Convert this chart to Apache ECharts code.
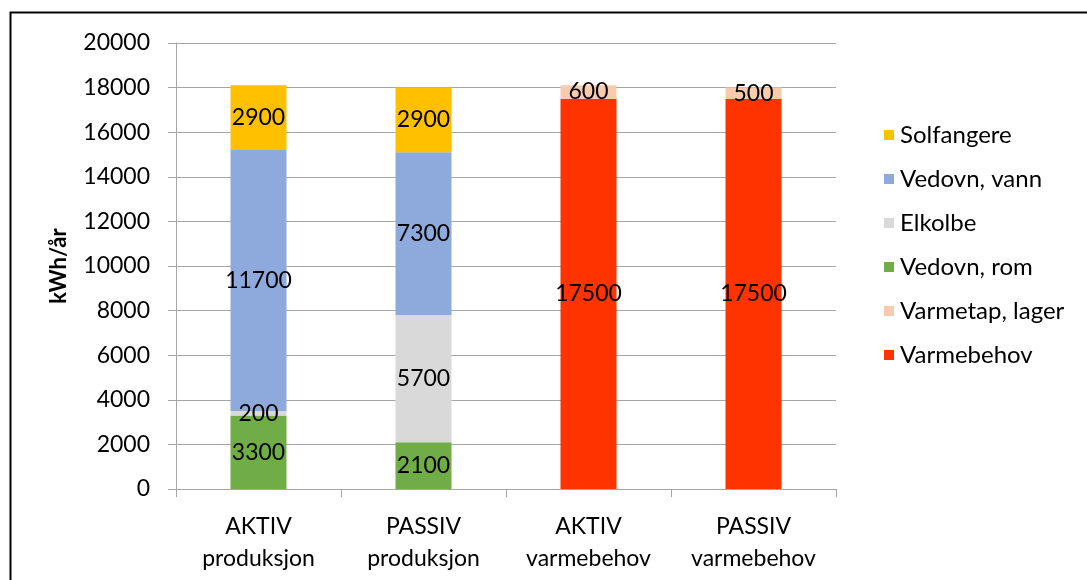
<!DOCTYPE html>
<html>
<head>
<meta charset="utf-8">
<script src="https://cdn.jsdelivr.net/npm/echarts@6/dist/echarts.min.js"></script>
<style>
  html, body { margin: 0; padding: 0; background: #fff; }
  #chart { width: 1087px; height: 580px; }
</style>
</head>
<body>
<div id="chart"></div>
<script>
// Categories along the x axis
const categories = ['AKTIV\nproduksjon', 'PASSIV\nproduksjon', 'AKTIV\nvarmebehov', 'PASSIV\nvarmebehov'];

// Energy per source / use (kWh/år), one entry per category
const vedovnRom   = [3300, 2100, '-', '-'];
const elkolbe     = [200, 5700, '-', '-'];
const vedovnVann  = [11700, 7300, '-', '-'];
const solfangere  = [2900, 2900, '-', '-'];
const varmebehov  = ['-', '-', 17500, 17500];
const varmetap    = ['-', '-', 600, 500];

// Legend order (top to bottom)
const legendOrder = ['Solfangere', 'Vedovn, vann', 'Elkolbe', 'Vedovn, rom', 'Varmetap, lager', 'Varmebehov'];

const FONT = 'Lato, "Open Sans", sans-serif';

function bar(name, data, color) {
  return {
    name, type: 'bar', stack: 'total', data,
    barWidth: 56,
    itemStyle: { color },
    label: {
      show: true, position: 'inside', color: '#000',
      fontFamily: FONT, fontSize: 23
    }
  };
}

const chart = echarts.init(document.getElementById('chart'), null, { renderer: 'canvas' });
chart.setOption({
  animation: false,
  backgroundColor: '#fff',
  textStyle: { fontFamily: FONT },
  graphic: [{
    type: 'rect',
    shape: { x: 10.5, y: 12.5, width: 1200, height: 700 },
    style: { fill: 'none', stroke: '#000', lineWidth: 2 },
    silent: true
  }],
  grid: { left: 176, right: 251, top: 43, bottom: 91 },
  legend: {
    orient: 'vertical',
    left: 879, top: 118,
    data: legendOrder,
    itemWidth: 10, itemHeight: 10, itemGap: 20,
    icon: 'rect',
    textStyle: { fontFamily: FONT, fontSize: 24, color: '#000', padding: [0, 0, 0, 1] }
  },
  xAxis: {
    type: 'category',
    data: categories,
    axisLine: { lineStyle: { color: '#a6a6a6', width: 1 } },
    axisTick: { show: true, length: 8, lineStyle: { color: '#a6a6a6' } },
    axisLabel: { color: '#000', fontFamily: FONT, fontSize: 23, lineHeight: 32, margin: 22 }
  },
  yAxis: {
    type: 'value',
    min: 0, max: 20000, interval: 2000,
    name: 'kWh/år',
    nameLocation: 'middle',
    nameGap: 106,
    nameTextStyle: { color: '#000', fontFamily: FONT, fontSize: 22, fontWeight: 'bold' },
    axisLine: { show: true, lineStyle: { color: '#a6a6a6' } },
    axisTick: { show: true, length: 8, lineStyle: { color: '#a6a6a6' } },
    axisLabel: { color: '#000', fontFamily: FONT, fontSize: 23, margin: 26, formatter: v => String(v) },
    splitLine: { lineStyle: { color: '#a6a6a6', width: 1 } }
  },
  series: [
    bar('Vedovn, rom', vedovnRom, '#70ad47'),
    bar('Elkolbe', elkolbe, '#d9d9d9'),
    bar('Vedovn, vann', vedovnVann, '#8eaadc'),
    bar('Solfangere', solfangere, '#ffc000'),
    bar('Varmebehov', varmebehov, '#ff3300'),
    bar('Varmetap, lager', varmetap, '#f8cbad')
  ]
});
</script>
</body>
</html>
